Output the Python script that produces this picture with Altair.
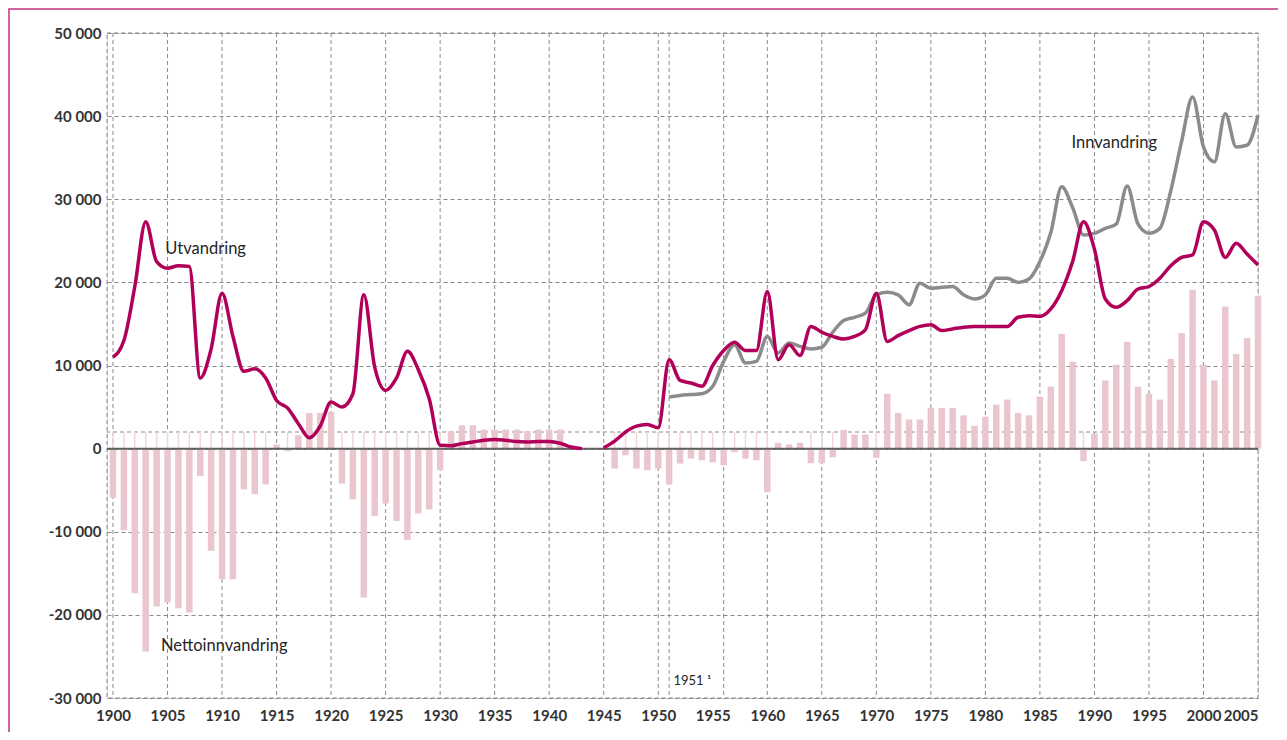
import altair as alt
import pandas as pd

# ---------------- data ----------------
net_years = list(range(1900, 1942)) + list(range(1946, 2006))
net_values = [
    -5900, -9800, -17400, -24400, -19000, -18500, -19200, -19700, -3300, -12300,
    -15700, -15700, -4900, -5500, -4300, 500, -300, 1600, 4300, 4300,
    4400, -4200, -6100, -17900, -8100, -6600, -8700, -11000, -7800, -7300,
    -2600, 2050, 2800, 2800, 2300, 2300, 2300, 2300, 2100, 2300,
    2300, 2300,
    -2400, -800, -2400, -2600, -2400, -4300, -1800, -1200, -1400, -1650,
    -2000, -450, -1200, -1400, -5250, 700, 500, 700, -1750, -1750,
    -1050, 2250, 1700, 1700, -1100, 6600, 4300, 3500, 3500, 4900,
    4900, 4900, 4000, 2750, 3850, 5300, 5900, 4300, 4000, 6250,
    7450, 13800, 10450, -1500, 1800, 8200, 10100, 12850, 7450, 6600,
    5900, 10800, 13900, 19100, 10100, 8200, 17100, 11400, 13300, 18400,
]

emig_years_a = list(range(1900, 1944))
emig_values_a = [
    11000, 13000, 19500, 27300, 22500, 21700, 22000, 21900, 8500, 12000,
    18700, 13500, 9300, 9600, 8500, 5800, 4900, 3000, 1300, 2700,
    5600, 5000, 6600, 18500, 9800, 7000, 8500, 11700, 9500, 6000,
    400, 350, 600, 800, 1000, 1100, 1000, 850, 800, 850,
    850, 650, 200, 0,
]
emig_years_b = list(range(1945, 2006))
emig_values_b = [
    100, 900, 2000, 2700, 2900, 2500, 10700, 8200, 7900, 7500,
    10000, 11800, 12800, 11800, 11800, 18900, 10700, 12500, 11200, 14700,
    14000, 13500, 13200, 13500, 14300, 18700, 12900, 13600, 14200, 14700,
    14900, 14200, 14400, 14600, 14700, 14700, 14700, 14700, 15800, 16000,
    15900, 16800, 19000, 22500, 27300, 24000, 18000, 17000, 17800, 19200,
    19500, 20500, 22000, 23000, 23300, 27300, 26300, 23000, 24700, 23400,
    22100,
]

imm_years = list(range(1951, 2006))
imm_values = [
    6200, 6400, 6500, 6600, 7500, 10500, 12500, 10300, 10500, 13500,
    11500, 12700, 12300, 12000, 12200, 14000, 15400, 15800, 16300, 18500,
    18800, 18500, 17300, 19900, 19300, 19400, 19500, 18500, 18000, 18500,
    20500, 20500, 20000, 20400, 22500, 26000, 31500, 29000, 25700, 25900,
    26500, 27000, 31600, 27000, 25900, 26500, 31000, 37000, 42300, 36300,
    34500, 40300, 36300, 36500, 40100,
]

x_ticks = list(range(1900, 2006, 5))
y_ticks = list(range(-30000, 50001, 10000))
grid_years = [1900, 1905, 1910, 1915, 1920, 1925, 1930, 1935, 1940, 1945, 1950,
              1951, 1956, 1960, 1965, 1970, 1975, 1980, 1985, 1990, 1995, 2000]
ref_level = [2000]

labels_text = ["Utvandring", "Innvandring", "Nettoinnvandring", "1951 ¹"]
labels_x = [1904.8, 1987.9, 1904.4, 1951.4]
labels_y = [24000, 36800, -23800, -27900]
labels_size = [16.5, 16.5, 16.5, 13]

# ---------------- tables ----------------
net_df = pd.DataFrame({"year": net_years, "value": net_values})
neg_df = net_df[net_df["value"] < 0].assign(top=ref_level[0], zero=0)
line_df = pd.concat([
    pd.DataFrame({"year": emig_years_a, "value": emig_values_a, "seg": "Utvandring A"}),
    pd.DataFrame({"year": emig_years_b, "value": emig_values_b, "seg": "Utvandring B"}),
])
imm_df = pd.DataFrame({"year": imm_years, "value": imm_values, "seg": "Innvandring"})
grid_df = pd.DataFrame({"year": grid_years})
ref_df = pd.DataFrame({"v": ref_level})
lab_df = pd.DataFrame({"text": labels_text, "year": labels_x, "value": labels_y, "size": labels_size})

W, H = 1151, 665
xscale = alt.Scale(domain=[1899.45, 2005], nice=False, zero=False, padding=0)
yscale = alt.Scale(domain=[-30000, 50000], nice=False, padding=0)

FONT = "Lato"
GRID = "#8a8a8a"
MAGENTA = "#b1005a"
GRAY = "#8b8b8b"
PINK = "#eac6cf"

ylabel = "(datum.value < 0 ? '-' : '') + replace(format(abs(datum.value), ','), ',', ' ')"

X_AXIS = alt.Axis(values=x_ticks, format="d", grid=False, ticks=False, domain=False,
                  labelFont=FONT, labelFontSize=15, labelFontWeight="bold",
                  labelColor="#333333", labelPadding=10, title=None)
Y_AXIS = alt.Axis(values=y_ticks, grid=True, gridColor=GRID, gridDash=[4, 3],
                  gridWidth=1, ticks=False, domain=False, labelExpr=ylabel,
                  labelFont=FONT, labelFontSize=15, labelFontWeight="bold",
                  labelColor="#333333", labelPadding=6, title=None)


def X(field):
    return alt.X(field, scale=xscale, axis=X_AXIS, title=None)


def Y(field):
    return alt.Y(field, scale=yscale, axis=Y_AXIS, title=None)


grid_v = alt.Chart(grid_df).mark_rule(color=GRID, strokeDash=[4, 3], strokeWidth=1).encode(
    x=X("year:Q")
)
grid_h = alt.Chart(ref_df).mark_rule(color=GRID, strokeDash=[4, 3], strokeWidth=1).encode(
    y=Y("v:Q")
)
border = alt.Chart(ref_df).mark_rect(fill=None, stroke=GRID, strokeDash=[4, 3], strokeWidth=1).encode(
    x=alt.value(0), x2=alt.value(W), y=alt.value(0), y2=alt.value(H)
)

bars = alt.Chart(net_df).mark_bar(color=PINK, width=6.5).encode(
    x=X("year:Q"), y=Y("value:Q"), y2=alt.datum(0),
)

ghost = alt.Chart(neg_df).mark_rule(color="#f1d6dc", strokeWidth=1.5).encode(
    x=X("year:Q"), y=Y("zero:Q"), y2="top:Q",
)

zero_line = alt.Chart(ref_df).mark_rule(color="#5f5f5f", strokeWidth=2).encode(
    y=alt.datum(0)
)

imm_line = alt.Chart(imm_df).mark_line(color=GRAY, strokeWidth=3.5, interpolate="monotone").encode(
    x=X("year:Q"), y=Y("value:Q"), detail="seg:N",
)
emig_line = alt.Chart(line_df).mark_line(color=MAGENTA, strokeWidth=3.5, interpolate="monotone").encode(
    x=X("year:Q"), y=Y("value:Q"), detail="seg:N",
)

labels = alt.Chart(lab_df).mark_text(font=FONT, color="#262626", align="left", baseline="middle").encode(
    x=X("year:Q"), y=Y("value:Q"),
    text="text:N",
    size=alt.Size("size:Q", scale=None, legend=None),
)

frame = alt.Chart(ref_df).mark_rect(fill=None, stroke="#c2327c", strokeWidth=1.5).encode(
    x=alt.value(-98), x2=alt.value(W + 300), y=alt.value(-24), y2=alt.value(H + 300)
)

chart = alt.layer(
    grid_v, grid_h, border, bars, ghost, zero_line, imm_line, emig_line, labels, frame
).properties(
    width=W, height=H,
    autosize=alt.AutoSizeParams(type="none"),
    padding={"left": 99, "top": 25, "right": 20, "bottom": 34},
).configure_view(
    stroke=None
).configure(background="white")

chart.save("out.html", embed_options={"renderer": "svg", "actions": False})
